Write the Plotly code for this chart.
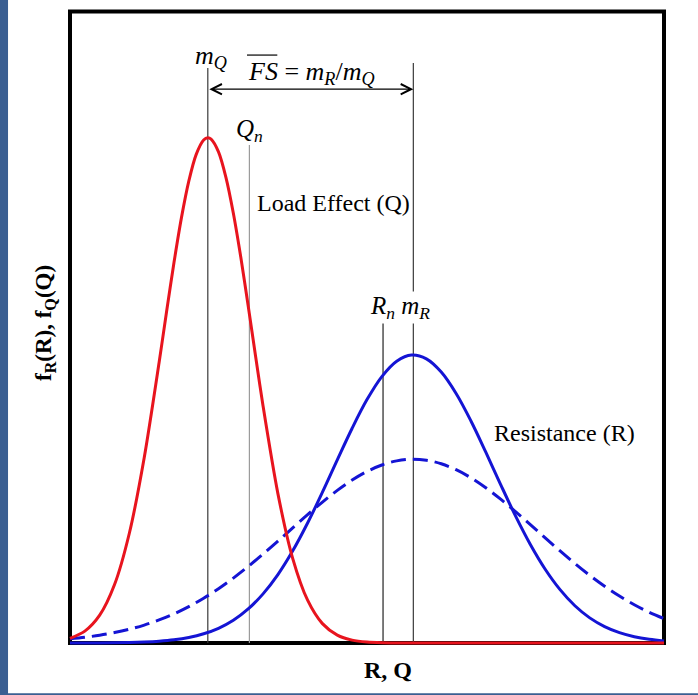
import plotly.graph_objects as go

# ---------------- data ----------------
x_vals = [0.0, 0.25, 0.5, 0.75, 1.0, 1.25, 1.5, 1.75, 2.0, 2.25, 2.5, 2.75, 3.0, 3.25,
          3.5, 3.75, 4.0, 4.25, 4.5, 4.75, 5.0, 5.25, 5.5, 5.75, 6.0, 6.25, 6.5, 6.75,
          7.0, 7.25, 7.5, 7.75, 8.0, 8.25, 8.5, 8.75, 9.0, 9.25, 9.5, 9.75, 10.0]

load_x = [0.0, 0.25, 0.5, 0.75, 1.0, 1.25, 1.5, 1.625, 1.75, 1.875, 2.0, 2.125, 2.25, 2.32,
          2.375, 2.5, 2.625, 2.75, 2.875, 3.0, 3.125, 3.25, 3.5, 3.75, 4.0, 4.25, 4.5, 4.75,
          5.0, 5.25, 5.5, 5.75, 6.0, 7.0, 8.0, 9.0, 10.0]
load_q = [0.0072, 0.0188, 0.0441, 0.0926, 0.1742, 0.2939, 0.4443, 0.5242, 0.6021, 0.6728,
          0.7314, 0.7738, 0.7966, 0.8000, 0.7979, 0.7777, 0.7374, 0.6805, 0.6111, 0.5338,
          0.4538, 0.3754, 0.2366, 0.1337, 0.0678, 0.0307, 0.0125, 0.0046, 0.0015, 0.0004,
          0.0001, 0.0, 0.0, 0.0, 0.0, 0.0, 0.0]

resist_r = [0.0000, 0.0001, 0.0002, 0.0004, 0.0008, 0.0016, 0.0029, 0.0051, 0.0088, 0.0146,
            0.0233, 0.0360, 0.0539, 0.0778, 0.1084, 0.1460, 0.1900, 0.2388, 0.2900, 0.3401,
            0.3854, 0.4219, 0.4462, 0.4559, 0.4499, 0.4290, 0.3951, 0.3516, 0.3022, 0.2509,
            0.2013, 0.1560, 0.1168, 0.0845, 0.0590, 0.0398, 0.0260, 0.0164, 0.0100, 0.0059,
            0.0033]

resist_r_wide = [0.0066, 0.0091, 0.0123, 0.0165, 0.0218, 0.0284, 0.0365, 0.0462, 0.0576, 0.0709,
                 0.0859, 0.1028, 0.1212, 0.1408, 0.1614, 0.1824, 0.2032, 0.2232, 0.2417, 0.2580,
                 0.2716, 0.2819, 0.2884, 0.2910, 0.2894, 0.2838, 0.2744, 0.2616, 0.2458, 0.2278,
                 0.2081, 0.1874, 0.1664, 0.1457, 0.1258, 0.1070, 0.0898, 0.0743, 0.0606, 0.0487,
                 0.0386]

marker_names = ["mQ", "Qn", "Rn", "mR"]
marker_x = [2.32, 3.02, 5.27, 5.78]

# ---------------- styles ----------------
RED = "#e8141e"
BLUE = "#1414d4"
FONT = "Liberation Serif"
marker_style = {
    "mQ": dict(top=0.9105, color="#3a3a3a"),
    "Qn": dict(top=0.7886, color="#9a9a9a"),
    "Rn": dict(top=0.5067, color="#222222"),
    "mR": dict(top=0.9184, color="#3a3a3a"),
}
xm = dict(zip(marker_names, marker_x))

fig = go.Figure()

fig.add_trace(go.Scatter(x=x_vals, y=resist_r_wide, mode="lines",
                         line=dict(color=BLUE, width=3, dash="15px,7px", shape="spline"),
                         hoverinfo="skip"))
fig.add_trace(go.Scatter(x=x_vals, y=resist_r, mode="lines",
                         line=dict(color=BLUE, width=3, shape="spline"), hoverinfo="skip"))
fig.add_trace(go.Scatter(x=load_x, y=load_q, mode="lines",
                         line=dict(color=RED, width=3, shape="spline", smoothing=0.8),
                         hoverinfo="skip"))

shapes = []
# frame
shapes.append(dict(type="rect", xref="x", yref="y", x0=x_vals[0], x1=x_vals[-1], y0=0, y1=1,
                   line=dict(color="black", width=4), layer="below"))
# vertical reference lines
for name, xv in zip(marker_names, marker_x):
    st = marker_style[name]
    shapes.append(dict(type="line", xref="x", yref="y", x0=xv, x1=xv, y0=0, y1=st["top"],
                       line=dict(color=st["color"], width=1.2), layer="below"))
# overline on FS
shapes.append(dict(type="line", xref="x", yref="y", x0=2.98, x1=3.49, y0=0.931, y1=0.931,
                   line=dict(color="black", width=1.2)))
# page bands
shapes.append(dict(type="rect", xref="paper", yref="paper", x0=-0.2, x1=-0.0963, y0=-0.2, y1=1.2,
                   line=dict(width=0), fillcolor="#3b5f92"))
shapes.append(dict(type="rect", xref="paper", yref="paper", x0=-0.2, x1=1.2, y0=-0.2, y1=-0.0722,
                   line=dict(width=0), fillcolor="#3b5f92"))

arrow_y = 0.877
ann = []
ann.append(dict(x=xm["mR"], y=arrow_y, ax=xm["mQ"], ay=arrow_y, xref="x", yref="y",
                axref="x", ayref="y", text="", showarrow=True, arrowside="end+start",
                arrowhead=5, startarrowhead=5, arrowsize=1.7, startarrowsize=1.7,
                arrowwidth=1.2, arrowcolor="black", standoff=0, startstandoff=0))

def txt(x, y, s, size=24, bg=None, angle=0, ref="x"):
    d = dict(x=x, y=y, xref=ref, yref=("y" if ref == "x" else "paper"), text=s, showarrow=False,
             font=dict(family=FONT, size=size, color="black"),
             xanchor="center", yanchor="middle", textangle=angle)
    if bg:
        d["bgcolor"] = bg
        d["borderpad"] = 0
    return d

ann.append(txt(2.37, 0.928, "<i>m</i><sub><i>Q</i></sub>", 26))
ann.append(txt(4.07, 0.902, "<i>FS</i> = <i>m</i><sub><i>R</i></sub>/<i>m</i><sub><i>Q</i></sub>", 26))
ann.append(txt(3.03, 0.812, "<i>Q</i><sub><i>n</i></sub>", 25))
ann.append(txt(4.44, 0.697, "Load Effect (Q)", 24))
ann.append(txt(5.556, 0.532, "<i>R</i><sub><i>n</i></sub> <i>m</i><sub><i>R</i></sub>", 25, bg="white"))
ann.append(txt(8.33, 0.3325, "Resistance (R)", 24))
ann.append(txt(0.535, -0.036, "<b>R, Q</b>", 24, ref="paper"))
ann.append(txt(-0.0349, 0.507, "<b>f<sub>R</sub>(R), f<sub>Q</sub>(Q)</b>", 23, angle=-90, ref="paper"))

fig.update_layout(
    width=698, height=695,
    margin=dict(l=66, r=30, t=8, b=48),
    paper_bgcolor="white", plot_bgcolor="white",
    showlegend=False,
    xaxis=dict(range=[-0.0673, 10.0673], visible=False, fixedrange=True),
    yaxis=dict(range=[-0.00633, 1.00554], visible=False, fixedrange=True),
    shapes=shapes, annotations=ann,
)

fig.write_html("out.html", config={"displayModeBar": False})
